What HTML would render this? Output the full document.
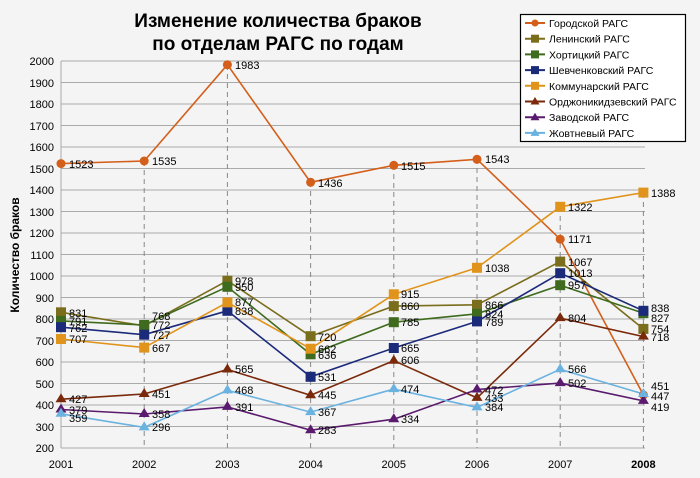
<!DOCTYPE html><html><head><meta charset="utf-8"><style>body{margin:0;background:#f4f4f4}svg{display:block;font-family:"Liberation Sans",Arial,sans-serif}</style></head><body>
<svg width="700" height="478" viewBox="0 0 700 478">
<rect width="700" height="478" fill="#f4f4f4"/>
<text x="278" y="27" font-size="19" font-weight="bold" text-anchor="middle">Изменение количества браков</text>
<text x="278" y="50" font-size="19" font-weight="bold" text-anchor="middle">по отделам РАГС по годам</text>
<text transform="translate(19,255) rotate(-90)" font-size="12" font-weight="bold" text-anchor="middle">Количество браков</text>
<g stroke="#aaa" stroke-width="1">
<line x1="61" x2="645" y1="448" y2="448"/><line x1="61" x2="645" y1="426.5" y2="426.5"/><line x1="61" x2="645" y1="405" y2="405"/><line x1="61" x2="645" y1="383.5" y2="383.5"/><line x1="61" x2="645" y1="362" y2="362"/><line x1="61" x2="645" y1="340.5" y2="340.5"/><line x1="61" x2="645" y1="319" y2="319"/><line x1="61" x2="645" y1="297.5" y2="297.5"/><line x1="61" x2="645" y1="276" y2="276"/><line x1="61" x2="645" y1="254.5" y2="254.5"/><line x1="61" x2="645" y1="233" y2="233"/><line x1="61" x2="645" y1="211.5" y2="211.5"/><line x1="61" x2="645" y1="190" y2="190"/><line x1="61" x2="645" y1="168.5" y2="168.5"/><line x1="61" x2="645" y1="147" y2="147"/><line x1="61" x2="520" y1="125.5" y2="125.5"/><line x1="61" x2="520" y1="104" y2="104"/><line x1="61" x2="520" y1="82.5" y2="82.5"/><line x1="61" x2="520" y1="61" y2="61"/>
<line x1="61" x2="61" y1="61" y2="448"/>
</g>
<g stroke="#888" stroke-width="1" stroke-dasharray="5,4">
<line x1="144.2" x2="144.2" y1="161" y2="448"/><line x1="227.4" x2="227.4" y1="65" y2="448"/><line x1="310.6" x2="310.6" y1="182" y2="448"/><line x1="393.8" x2="393.8" y1="165" y2="448"/><line x1="477" x2="477" y1="159" y2="448"/><line x1="560.2" x2="560.2" y1="207" y2="448"/><line x1="643.4" x2="643.4" y1="193" y2="448"/>
</g>
<g font-size="11" text-anchor="end">
<text x="54" y="452">200</text><text x="54" y="431">300</text><text x="54" y="409">400</text><text x="54" y="388">500</text><text x="54" y="366">600</text><text x="54" y="345">700</text><text x="54" y="323">800</text><text x="54" y="302">900</text><text x="54" y="280">1000</text><text x="54" y="259">1100</text><text x="54" y="237">1200</text><text x="54" y="216">1300</text><text x="54" y="194">1400</text><text x="54" y="173">1500</text><text x="54" y="151">1600</text><text x="54" y="130">1700</text><text x="54" y="108">1800</text><text x="54" y="87">1900</text><text x="54" y="65">2000</text>
</g>
<g font-size="11" text-anchor="middle">
<text x="61" y="468">2001</text><text x="144.2" y="468">2002</text><text x="227.4" y="468">2003</text><text x="310.6" y="468">2004</text><text x="393.8" y="468">2005</text><text x="477" y="468">2006</text><text x="560.2" y="468">2007</text><text x="643.4" y="468" font-weight="bold">2008</text>
</g>
<g fill="none" stroke-width="1.6">
<polyline stroke="#d35f1a" points="61,163.6 144.2,161 227.4,64.7 310.6,182.3 393.8,165.3 477,159.3 560.2,239.2 643.4,394.9"/>
<polyline stroke="#7a6e1c" points="61,312.3 144.2,325.9 227.4,280.7 310.6,336.2 393.8,306.1 477,304.8 560.2,261.6 643.4,328.9"/>
<polyline stroke="#3f6b1e" points="61,320.9 144.2,325 227.4,286.8 310.6,354.3 393.8,322.2 477,313.8 560.2,285.2 643.4,313.2"/>
<polyline stroke="#1c2a7a" points="61,327.2 144.2,334.7 227.4,310.8 310.6,376.8 393.8,348 477,321.4 560.2,273.2 643.4,310.8"/>
<polyline stroke="#e0941c" points="61,339 144.2,347.6 227.4,302.4 310.6,348.7 393.8,294.3 477,267.8 560.2,206.8 643.4,192.6"/>
<polyline stroke="#7a2a0a" points="61,399.2 144.2,394 227.4,369.5 310.6,395.3 393.8,360.7 477,397.9 560.2,318.1 643.4,336.6"/>
<polyline stroke="#5a1a6e" points="61,409.5 144.2,414 227.4,406.9 310.6,430.2 393.8,419.2 477,389.5 560.2,383.1 643.4,400.9"/>
<polyline stroke="#6ab2e0" points="61,413.8 144.2,427.4 227.4,390.4 310.6,412.1 393.8,389.1 477,407.4 560.2,369.3 643.4,394"/>
</g>
<g fill="#d35f1a"><circle cx="61" cy="163.6" r="4.5"/><circle cx="144.2" cy="161" r="4.5"/><circle cx="227.4" cy="64.7" r="4.5"/><circle cx="310.6" cy="182.3" r="4.5"/><circle cx="393.8" cy="165.3" r="4.5"/><circle cx="477" cy="159.3" r="4.5"/><circle cx="560.2" cy="239.2" r="4.5"/><circle cx="643.4" cy="394.9" r="4.5"/></g>
<g fill="#7a6e1c"><rect x="56" y="307.3" width="10" height="10"/><rect x="139.2" y="320.9" width="10" height="10"/><rect x="222.4" y="275.7" width="10" height="10"/><rect x="305.6" y="331.2" width="10" height="10"/><rect x="388.8" y="301.1" width="10" height="10"/><rect x="472" y="299.8" width="10" height="10"/><rect x="555.2" y="256.6" width="10" height="10"/><rect x="638.4" y="323.9" width="10" height="10"/></g>
<g fill="#3f6b1e"><rect x="56" y="315.9" width="10" height="10"/><rect x="139.2" y="320" width="10" height="10"/><rect x="222.4" y="281.8" width="10" height="10"/><rect x="305.6" y="349.3" width="10" height="10"/><rect x="388.8" y="317.2" width="10" height="10"/><rect x="472" y="308.8" width="10" height="10"/><rect x="555.2" y="280.2" width="10" height="10"/><rect x="638.4" y="308.2" width="10" height="10"/></g>
<g fill="#1c2a7a"><rect x="56" y="322.2" width="10" height="10"/><rect x="139.2" y="329.7" width="10" height="10"/><rect x="222.4" y="305.8" width="10" height="10"/><rect x="305.6" y="371.8" width="10" height="10"/><rect x="388.8" y="343" width="10" height="10"/><rect x="472" y="316.4" width="10" height="10"/><rect x="555.2" y="268.2" width="10" height="10"/><rect x="638.4" y="305.8" width="10" height="10"/></g>
<g fill="#e0941c"><rect x="56" y="334" width="10" height="10"/><rect x="139.2" y="342.6" width="10" height="10"/><rect x="222.4" y="297.4" width="10" height="10"/><rect x="305.6" y="343.7" width="10" height="10"/><rect x="388.8" y="289.3" width="10" height="10"/><rect x="472" y="262.8" width="10" height="10"/><rect x="555.2" y="201.8" width="10" height="10"/><rect x="638.4" y="187.6" width="10" height="10"/></g>
<g fill="#7a2a0a"><path d="M61 393.2l5.5 9h-11z"/><path d="M144.2 388l5.5 9h-11z"/><path d="M227.4 363.5l5.5 9h-11z"/><path d="M310.6 389.3l5.5 9h-11z"/><path d="M393.8 354.7l5.5 9h-11z"/><path d="M477 391.9l5.5 9h-11z"/><path d="M560.2 312.1l5.5 9h-11z"/><path d="M643.4 330.6l5.5 9h-11z"/></g>
<g fill="#5a1a6e"><path d="M61 403.5l5.5 9h-11z"/><path d="M144.2 408l5.5 9h-11z"/><path d="M227.4 400.9l5.5 9h-11z"/><path d="M310.6 424.2l5.5 9h-11z"/><path d="M393.8 413.2l5.5 9h-11z"/><path d="M477 383.5l5.5 9h-11z"/><path d="M560.2 377.1l5.5 9h-11z"/><path d="M643.4 394.9l5.5 9h-11z"/></g>
<g fill="#6ab2e0"><path d="M61 407.8l5.5 9h-11z"/><path d="M144.2 421.4l5.5 9h-11z"/><path d="M227.4 384.4l5.5 9h-11z"/><path d="M310.6 406.1l5.5 9h-11z"/><path d="M393.8 383.1l5.5 9h-11z"/><path d="M477 401.4l5.5 9h-11z"/><path d="M560.2 363.3l5.5 9h-11z"/><path d="M643.4 388l5.5 9h-11z"/></g>
<g font-size="11">
<text x="69" y="168">1523</text><text x="152" y="165">1535</text><text x="235" y="69">1983</text><text x="318" y="187">1436</text><text x="401" y="170">1515</text><text x="485" y="163">1543</text><text x="568" y="243">1171</text>
<text x="69" y="317">831</text><text x="152" y="320">768</text><text x="235" y="285">978</text><text x="318" y="341">720</text><text x="401" y="310">860</text><text x="485" y="309">866</text><text x="568" y="266">1067</text><text x="651" y="333">754</text>
<text x="69" y="325">791</text><text x="152" y="329">772</text><text x="235" y="291">950</text><text x="318" y="359">636</text><text x="401" y="326">785</text><text x="485" y="318">824</text><text x="568" y="289">957</text><text x="651" y="322">827</text>
<text x="69" y="332">762</text><text x="152" y="339">727</text><text x="235" y="315">838</text><text x="318" y="381">531</text><text x="401" y="352">665</text><text x="485" y="326">789</text><text x="568" y="277">1013</text><text x="651" y="312">838</text>
<text x="69" y="343">707</text><text x="152" y="352">667</text><text x="235" y="306">877</text><text x="318" y="353">662</text><text x="401" y="298">915</text><text x="485" y="272">1038</text><text x="568" y="211">1322</text><text x="651" y="197">1388</text>
<text x="69" y="403">427</text><text x="152" y="398">451</text><text x="235" y="373">565</text><text x="318" y="399">445</text><text x="401" y="364">606</text><text x="485" y="402">433</text><text x="568" y="322">804</text><text x="651" y="341">718</text>
<text x="69" y="414">379</text><text x="152" y="418">358</text><text x="235" y="411">391</text><text x="318" y="434">283</text><text x="401" y="423">334</text><text x="485" y="394">472</text><text x="568" y="387">502</text><text x="651" y="411">419</text>
<text x="69" y="422">359</text><text x="152" y="431">296</text><text x="235" y="394">468</text><text x="318" y="416">367</text><text x="401" y="393">474</text><text x="485" y="411">384</text><text x="568" y="373">566</text><text x="651" y="390">451</text><text x="651" y="400">447</text>
</g>
<rect x="520.5" y="14.5" width="165" height="127" fill="#fff" stroke="#000" stroke-width="1.2"/>
<g stroke-width="2">
<line x1="525" x2="545" y1="23" y2="23" stroke="#d35f1a"/><circle cx="535" cy="23" r="3.5" fill="#d35f1a"/>
<line x1="525" x2="545" y1="38.7" y2="38.7" stroke="#7a6e1c"/><rect x="531" y="34.7" width="8" height="8" fill="#7a6e1c"/>
<line x1="525" x2="545" y1="54.4" y2="54.4" stroke="#3f6b1e"/><rect x="531" y="50.4" width="8" height="8" fill="#3f6b1e"/>
<line x1="525" x2="545" y1="70.1" y2="70.1" stroke="#1c2a7a"/><rect x="531" y="66.1" width="8" height="8" fill="#1c2a7a"/>
<line x1="525" x2="545" y1="85.8" y2="85.8" stroke="#e0941c"/><rect x="531" y="81.8" width="8" height="8" fill="#e0941c"/>
<line x1="525" x2="545" y1="101.5" y2="101.5" stroke="#7a2a0a"/><path d="M535 97l4.5 7.5h-9z" fill="#7a2a0a"/>
<line x1="525" x2="545" y1="117.2" y2="117.2" stroke="#5a1a6e"/><path d="M535 112.7l4.5 7.5h-9z" fill="#5a1a6e"/>
<line x1="525" x2="545" y1="132.9" y2="132.9" stroke="#6ab2e0"/><path d="M535 128.4l4.5 7.5h-9z" fill="#6ab2e0"/>
</g>
<g font-size="10.5">
<text x="549" y="27">Городской РАГС</text><text x="549" y="42.7">Ленинский РАГС</text><text x="549" y="58.4">Хортицкий РАГС</text><text x="549" y="74.1">Шевченковский РАГС</text><text x="549" y="89.8">Коммунарский РАГС</text><text x="549" y="105.5">Орджоникидзевский РАГС</text><text x="549" y="121.2">Заводской РАГС</text><text x="549" y="136.9">Жовтневый РАГС</text>
</g>
</svg></body></html>
